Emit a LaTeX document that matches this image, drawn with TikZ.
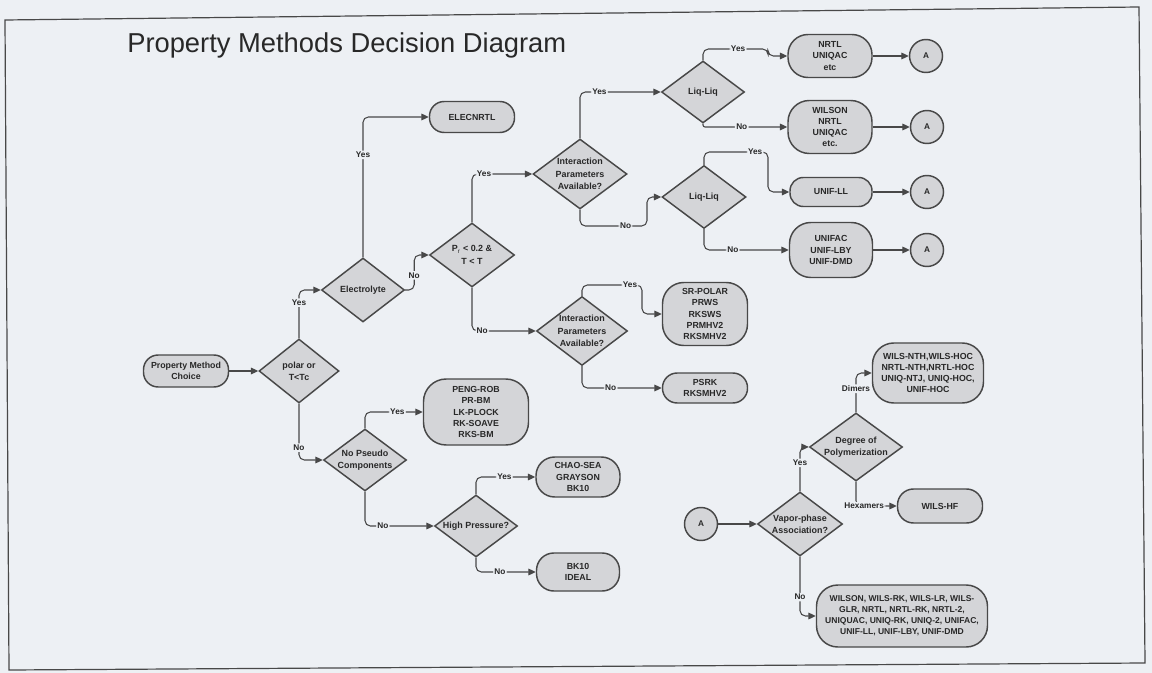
\documentclass[tikz,border=0pt]{standalone}
\usepackage{fontspec}
\setmainfont{Liberation Sans}
\usetikzlibrary{shapes.geometric,arrows.meta}
\definecolor{bgc}{RGB}{237,240,244}
\definecolor{nfill}{RGB}{212,213,216}
\definecolor{lnc}{RGB}{72,72,72}
\definecolor{txc}{RGB}{40,40,40}
\newcommand\mybxfont{\fontsize{6.6}{8.3}\selectfont\bfseries}
\newcommand\mydiafont{\fontsize{6.7}{9.2}\selectfont\bfseries}
\newcommand\mylblfont{\fontsize{6.2}{7}\selectfont\bfseries}
\tikzset{
 box/.style={draw=lnc, line width=1.1pt, fill=nfill, align=center, inner sep=1pt, font=\mybxfont, text=txc},
 dia/.style={shape=diamond, draw=lnc, line width=1.1pt, fill=nfill, inner sep=0pt},
 dlab/.style={align=center, font=\mydiafont, text=txc, inner sep=0pt},
 conn/.style={draw=lnc, line width=0.8pt, rounded corners=4pt, -{Triangle[length=5.5pt,width=5pt]}},
 lbl/.style={font=\mylblfont, text=txc, fill=bgc, inner sep=1pt},
 circ/.style={circle, draw=lnc, line width=1.1pt, fill=nfill, minimum size=24.75pt, inner sep=0pt, font=\mylblfont, text=txc},
}
\begin{document}
\begin{tikzpicture}[x=0.75pt,y=-0.75pt]
\fill[bgc] (0,0) rectangle (1152,673);
\useasboundingbox (0,0) rectangle (1152,673);
\draw[lnc, line width=0.9pt] (5,20) -- (1139,7) -- (1145,663) -- (9,670) -- cycle;

\node[anchor=base west, font=\fontsize{20.5}{24}\selectfont, text=txc, inner sep=0pt] (title) at (127,53) {Property Methods Decision Diagram};

% nodes
\node[box, minimum width=63.75pt, minimum height=24pt, rounded corners=11pt] (pmc) at (186,371) {Property Method\\Choice};
\node[dia, minimum width=60pt, minimum height=48pt, label={[dlab]center:{polar or\\T<Tc}}] (polar) at (299,371) {};
\node[dia, minimum width=62.25pt, minimum height=48pt, label={[dlab]center:{Electrolyte}}] (elec) at (363,290) {};
\node[box, minimum width=63.75pt, minimum height=23.25pt, rounded corners=11pt] (elecnrtl) at (472,117) {ELECNRTL};
\node[dia, minimum width=63.75pt, minimum height=48pt, label={[dlab]center:{P$_{\mathrm{r}}$ < 0.2 \&\\T < T}}] (pr) at (472,255) {};
\node[dia, minimum width=70.5pt, minimum height=52.5pt, label={[dlab]center:{Interaction\\Parameters\\Available?}}] (ipa1) at (580,174) {};
\node[dia, minimum width=62.25pt, minimum height=46.5pt, label={[dlab]center:{Liq-Liq}}] (ll1) at (703,92) {};
\node[dia, minimum width=63pt, minimum height=47.25pt, label={[dlab]center:{Liq-Liq}}] (ll2) at (704,197) {};
\node[box, minimum width=63pt, minimum height=32.25pt, rounded corners=15pt] (nrtl) at (830,56) {NRTL\\UNIQAC\\etc};
\node[box, minimum width=63pt, minimum height=39.75pt, rounded corners=16pt] (wilson) at (830,127) {WILSON\\NRTL\\UNIQAC\\etc.};
\node[box, minimum width=61.5pt, minimum height=21.75pt, rounded corners=10pt] (unifll) at (831,192) {UNIF-LL};
\node[box, minimum width=62.25pt, minimum height=41.25pt, rounded corners=16pt] (unifac) at (831,250) {UNIFAC\\UNIF-LBY\\UNIF-DMD};
\node[circ] (a1) at (926,56) {A};
\node[circ] (a2) at (927,127) {A};
\node[circ] (a3) at (927,192) {A};
\node[circ] (a4) at (927,250) {A};
\node[dia, minimum width=68.25pt, minimum height=51.75pt, label={[dlab]center:{Interaction\\Parameters\\Available?}}] (ipa2) at (582,331) {};
\node[box, minimum width=63.75pt, minimum height=47.25pt, rounded corners=16pt] (srpolar) at (705,314) {SR-POLAR\\PRWS\\RKSWS\\PRMHV2\\RKSMHV2};
\node[box, minimum width=63.75pt, minimum height=22.5pt, rounded corners=11pt] (psrk) at (705,388) {PSRK\\RKSMHV2};
\node[dia, minimum width=62.25pt, minimum height=46.5pt, label={[dlab]center:{No Pseudo\\Components}}] (npc) at (365,460) {};
\node[box, minimum width=78.75pt, minimum height=49.5pt, rounded corners=17pt] (pengrob) at (476,412) {PENG-ROB\\PR-BM\\LK-PLOCK\\RK-SOAVE\\RKS-BM};
\node[dia, minimum width=62.25pt, minimum height=46.5pt, label={[dlab]center:{High Pressure?}}] (hp) at (476,526) {};
\node[box, minimum width=63pt, minimum height=30pt, rounded corners=14pt] (chao) at (578,477) {CHAO-SEA\\GRAYSON\\BK10};
\node[box, minimum width=62.25pt, minimum height=28.5pt, rounded corners=13pt] (bk10) at (578,572) {BK10\\IDEAL};
\node[circ] (astart) at (701,524) {A};
\node[dia, minimum width=63.75pt, minimum height=48pt, label={[dlab]center:{Vapor-phase\\Association?}}] (vpa) at (800,524) {};
\node[dia, minimum width=69.75pt, minimum height=51pt, label={[dlab]center:{Degree of\\Polymerization}}] (degree) at (856,447) {};
\node[box, minimum width=83.25pt, minimum height=45pt, rounded corners=16pt] (wilsnth) at (928,373) {WILS-NTH,WILS-HOC\\NRTL-NTH,NRTL-HOC\\UNIQ-NTJ, UNIQ-HOC,\\UNIF-HOC};
\node[box, minimum width=63.75pt, minimum height=25.5pt, rounded corners=12pt] (wilshf) at (940,506) {WILS-HF};
\node[box, minimum width=128.25pt, minimum height=46.5pt, rounded corners=16pt, font=\fontsize{6.4}{8.3}\selectfont\bfseries] (big) at (902,616) {WILSON, WILS-RK, WILS-LR, WILS-\\GLR, NRTL, NRTL-RK, NRTL-2,\\UNIQUAC, UNIQ-RK, UNIQ-2, UNIFAC,\\UNIF-LL, UNIF-LBY, UNIF-DMD};

% connectors
\draw[conn] (pmc.east) -- (polar.west);
\draw[conn] (polar.north) |- node[lbl,pos=.37]{Yes} (elec.west);
\draw[conn] (polar.south) |- node[lbl,pos=.39]{No} (npc.west);
\draw[conn] (elec.north) |- node[lbl,pos=.365]{Yes} (elecnrtl.west);
\draw[conn] (elec.east) -- ++(9,0) |- node[lbl,pos=.21]{No} (pr.west);
\draw[conn] (pr.north) |- node[lbl,pos=.6]{Yes} (ipa1.west);
\draw[conn] (pr.south) |- node[lbl,pos=.58]{No} (ipa2.west);
\draw[conn] (ipa1.north) |- node[lbl,pos=.62]{Yes} (ll1.west);
\draw[conn] (ipa1.south) |- node[lbl,pos=.84]{No} (647,226) |- (ll2.west);
\draw[conn] (ll1.north) |- node[lbl,pos=.77]{Yes} (768,49) |- (nrtl.west);
\draw[conn, rounded corners=1.5pt] (ll1.south) |- node[lbl,pos=.73]{No} (wilson.west);
\draw[conn] (ll2.north) |- node[lbl,pos=.9]{Yes} (768,152) |- (unifll.west);
\draw[conn] (ll2.south) |- node[lbl,pos=.67]{No} (unifac.west);
\draw[conn] (nrtl.east) -- (a1.west);
\draw[conn] (wilson.east) -- (a2.west);
\draw[conn] (unifll.east) -- (a3.west);
\draw[conn] (unifac.east) -- (a4.west);
\draw[conn] (ipa2.north) |- node[lbl,pos=.9]{Yes} (642,285) |- (srpolar.west);
\draw[conn] (ipa2.south) |- node[lbl,pos=.68]{No} (psrk.west);
\draw[conn] (npc.north) |- node[lbl,pos=.78]{Yes} (pengrob.west);
\draw[conn] (npc.south) |- node[lbl,pos=.63]{No} (hp.west);
\draw[conn] (hp.north) |- node[lbl,pos=.74]{Yes} (chao.west);
\draw[conn] (hp.south) |- node[lbl,pos=.7]{No} (bk10.west);
\draw[conn] (astart.east) -- (vpa.west);
\draw[conn] (vpa.north) |- node[lbl,pos=.32]{Yes} (degree.west);
\draw[conn] (degree.north) |- node[lbl,pos=.3]{Dimers} (wilsnth.west);
\draw[conn] (degree.south) |- node[lbl,pos=.6]{Hexamers} (wilshf.west);
\draw[conn] (vpa.south) |- node[lbl,pos=.34]{No} (big.west);
\end{tikzpicture}
\end{document}
